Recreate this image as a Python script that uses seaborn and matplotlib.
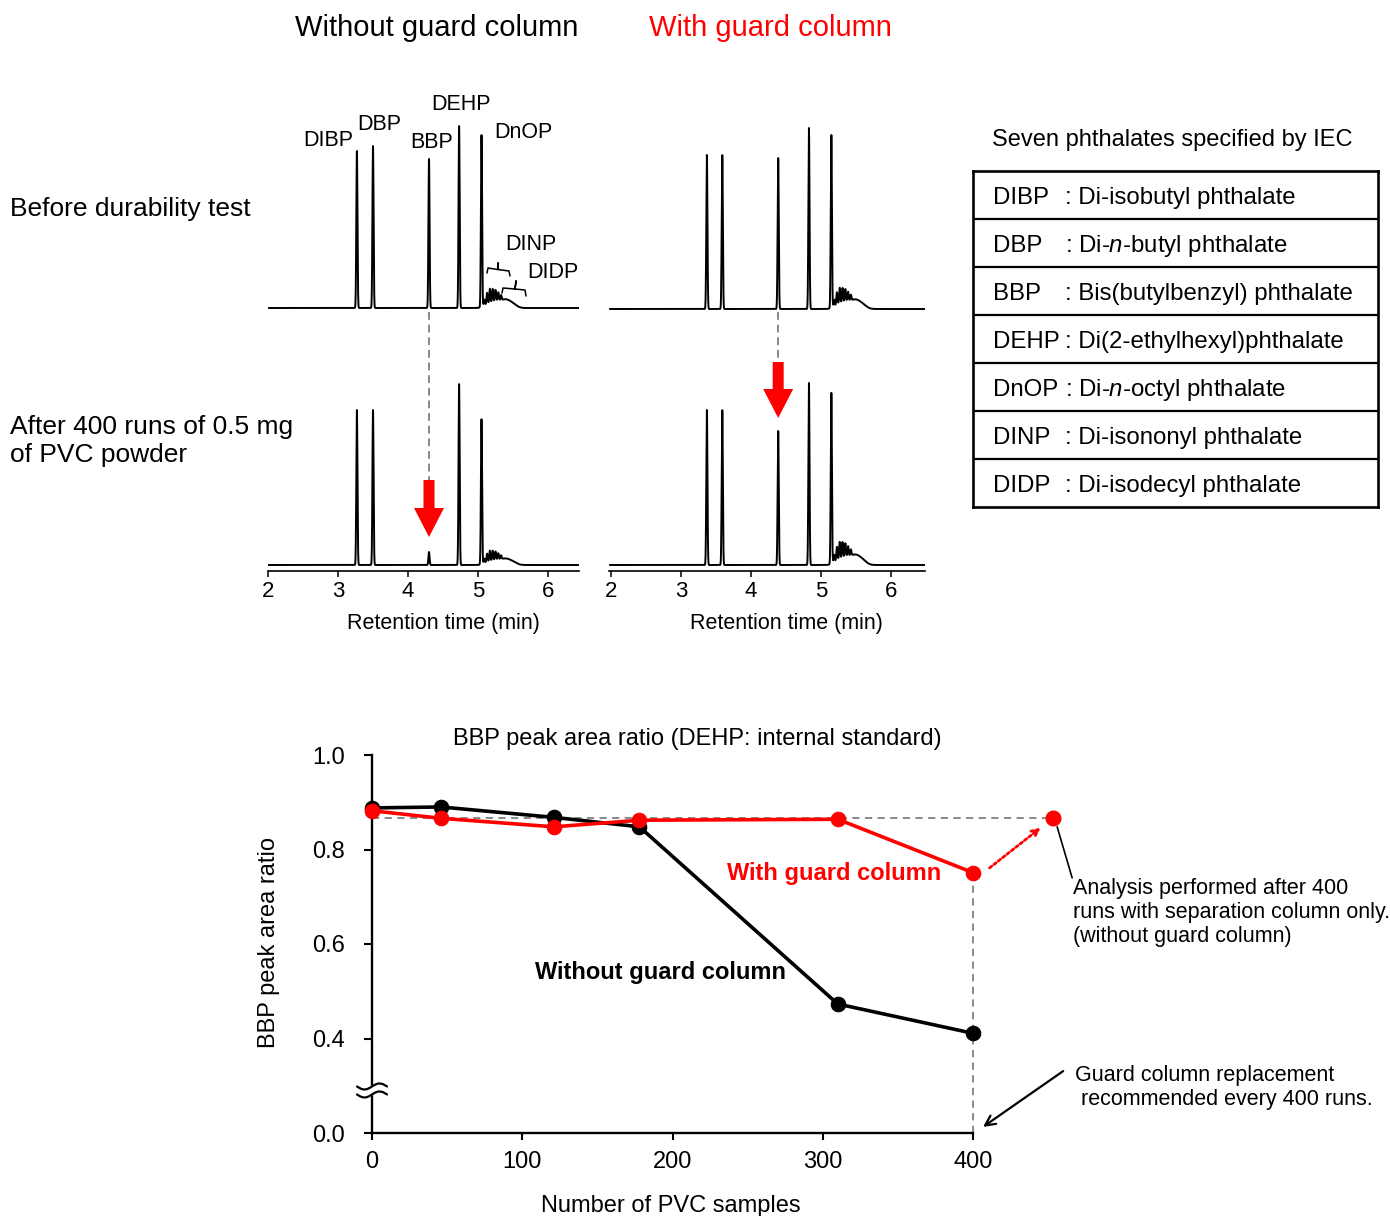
import numpy as np
import matplotlib
matplotlib.use("Agg")
import matplotlib.pyplot as plt
import seaborn as sns
from matplotlib.patches import FancyArrow, Rectangle
from matplotlib.lines import Line2D
from matplotlib.transforms import ScaledTranslation

# chromatogram peaks: retention time (min) and height (detector units)
peak_names = ["DIBP", "DBP", "BBP", "DEHP", "DnOP"]
rt_no_guard = [3.27, 3.50, 4.30, 4.73, 5.05]
rt_guard = [3.37, 3.59, 4.39, 4.83, 5.15]
height_before_no_guard = [157, 162, 149, 182, 172]
height_before_guard = [154, 154, 151, 181, 173]
height_after_no_guard = [155, 155, 13, 181, 145]
height_after_guard = [155, 155, 134, 182, 171]

# DINP / DIDP cluster (offset after DnOP, min)
cluster_offsets = [0.04, 0.08, 0.12, 0.16, 0.20, 0.24, 0.28]
cluster_heights = [6, 11, 14, 13, 11, 8, 5]
envelope_offsets = [0.10, 0.22, 0.34, 0.44]
envelope_heights = [4, 6, 7, 4]
cluster_scale = [1.0, 1.1, 0.75, 1.2]  # before/no guard, before/guard, after/no guard, after/guard

# durability test
samples = [0, 46, 121, 178, 310, 400]
ratio_no_guard = [0.888, 0.890, 0.868, 0.848, 0.473, 0.411]
ratio_guard = [0.882, 0.866, 0.848, 0.862, 0.864, 0.751]
replaced_x = 453
replaced_y = 0.866

# IEC table
abbrevs = ["DIBP", "DBP", "BBP", "DEHP", "DnOP", "DINP", "DIDP"]
full_names = [": Di-isobutyl phthalate",
              r": Di-$\mathit{n}$-butyl phthalate",
              ": Bis(butylbenzyl) phthalate",
              ": Di(2-ethylhexyl)phthalate",
              r": Di-$\mathit{n}$-octyl phthalate",
              ": Di-isononyl phthalate",
              ": Di-isodecyl phthalate"]

sns.set_theme(style="white")
plt.rcParams["font.family"] = ["Liberation Sans", "DejaVu Sans"]
plt.rcParams["mathtext.fontset"] = "custom"
plt.rcParams["mathtext.rm"] = "Liberation Sans"
plt.rcParams["mathtext.it"] = "Liberation Sans:italic"
for k in ["text.color", "axes.labelcolor", "xtick.color", "ytick.color", "axes.edgecolor"]:
    plt.rcParams[k] = "black"

W, H = 1390, 1216
fig = plt.figure(figsize=(W / 100, H / 100), dpi=100)


def rect(x0, y0, x1, y1):
    return [x0 / W, 1 - y1 / H, (x1 - x0) / W, (y1 - y0) / H]


def ftext(px, py, s, **kw):
    fig.text(px / W, 1 - py / H, s, **kw)


def trace(rts, heights, scale, lo, hi):
    t = np.linspace(lo, hi, 6000)
    s = np.zeros_like(t)
    for rt, h in zip(rts, heights):
        s += h * np.exp(-0.5 * ((t - rt) / 0.008) ** 2)
    base = rts[-1]
    for off, h in zip(cluster_offsets, cluster_heights):
        s += scale * h * np.exp(-0.5 * ((t - base - off) / 0.008) ** 2)
    for off, h in zip(envelope_offsets, envelope_heights):
        s += scale * h * np.exp(-0.5 * ((t - base - off) / 0.06) ** 2)
    return t, s


panels = [
    (rect(268, 118, 578.8, 312), (2, 6.44), (-4, 190), rt_no_guard, height_before_no_guard, cluster_scale[0], False),
    (rect(609, 118, 925, 312), (1.97, 6.49), (-3, 191), rt_guard, height_before_guard, cluster_scale[1], False),
    (rect(268, 377, 578.8, 571), (2, 6.44), (-6, 188), rt_no_guard, height_after_no_guard, cluster_scale[2], True),
    (rect(609, 377, 925, 571), (1.97, 6.49), (-6, 188), rt_guard, height_after_guard, cluster_scale[3], True),
]
chrom_axes = []
for box, xl, yl, rts, hts, sc, show_axis in panels:
    ax = fig.add_axes(box)
    ax.set_facecolor("none")
    t, s = trace(rts, hts, sc, xl[0] + 0.01, xl[1])
    sns.lineplot(x=t, y=s, ax=ax, color="black", lw=1.4, estimator=None, sort=False)
    ax.set_xlim(*xl)
    ax.set_ylim(*yl)
    ax.set_xlabel("")
    ax.set_ylabel("")
    for sp in ["top", "right", "left"]:
        ax.spines[sp].set_visible(False)
    ax.set_yticks([])
    if show_axis:
        ax.spines["bottom"].set_linewidth(1.2)
        ax.set_xticks([2, 3, 4, 5, 6])
        ax.tick_params(axis="x", direction="out", length=4, width=1.1, pad=3, labelsize=16, bottom=True)
    else:
        ax.spines["bottom"].set_visible(False)
        ax.set_xticks([])
    chrom_axes.append(ax)

ax_bl, ax_br = chrom_axes[2], chrom_axes[3]
bbp = peak_names.index("BBP")
# dashed guides and red arrows marking the BBP peak
ax_bl.plot([rt_no_guard[bbp]] * 2, [253, 85], color="#888888", lw=1.4, ls=(0, (4, 2.5)), clip_on=False)
ax_br.plot([rt_guard[bbp]] * 2, [253, 203], color="#888888", lw=1.4, ls=(0, (4, 2.5)), clip_on=False)
ax_bl.add_patch(FancyArrow(rt_no_guard[bbp], 85, 0, -57, width=11 / 70, head_width=30 / 70, head_length=29,
                           length_includes_head=True, color="red", lw=0, clip_on=False))
ax_br.add_patch(FancyArrow(rt_guard[bbp], 203, 0, -56, width=11 / 70, head_width=30 / 70, head_length=29,
                           length_includes_head=True, color="red", lw=0, clip_on=False))

# peak labels
for name, px, py in [("DIBP", 328, 140), ("DBP", 379, 124), ("BBP", 432, 142), ("DEHP", 461, 104),
                     ("DnOP", 523, 132), ("DINP", 531, 245), ("DIDP", 553, 272)]:
    ftext(px, py, name, ha="center", va="center", fontsize=15.5)

# brackets for DINP / DIDP
for pts in [[(487, 273), (488, 268), (498, 269.5), (498, 263), (498, 269.5), (509, 271), (510, 276)],
            [(502, 293), (503, 288), (515, 289), (516, 281), (515, 289), (525, 290), (526, 296)]]:
    xs = [p[0] / W for p in pts]
    ys = [1 - p[1] / H for p in pts]
    fig.add_artist(Line2D(xs, ys, transform=fig.transFigure, color="black", lw=1.1))

ftext(437, 28, "Without guard column", ha="center", va="center", fontsize=21)
ftext(770, 28, "With guard column", ha="center", va="center", fontsize=21, color="red")
ftext(10, 209, "Before durability test", ha="left", va="center", fontsize=19)
ftext(10, 441, "After 400 runs of 0.5 mg\nof PVC powder", ha="left", va="center", fontsize=19, linespacing=1.17)
ftext(443, 623, "Retention time (min)", ha="center", va="center", fontsize=15.5)
ftext(786, 623, "Retention time (min)", ha="center", va="center", fontsize=15.5)

# table
ftext(1172, 140, "Seven phthalates specified by IEC", ha="center", va="center", fontsize=17)
axt = fig.add_axes(rect(972.7, 170.7, 1378.3, 507.3))
axt.set_xlim(0, 1)
axt.set_ylim(len(abbrevs), 0)
axt.set_xticks([])
axt.set_yticks([])
for sp in axt.spines.values():
    sp.set_linewidth(1.9)
    sp.set_color("black")
for i in range(1, len(abbrevs)):
    axt.axhline(i, color="black", lw=1.6)
for i, (ab, nm) in enumerate(zip(abbrevs, full_names)):
    axt.text(20 / 405.6, i + 0.56, ab, ha="left", va="center", fontsize=17.3)
    axt.text(92 / 405.6, i + 0.56, nm, ha="left", va="center", fontsize=17.3)

# durability chart
ax = fig.add_axes(rect(372, 755, 973, 1133))
ax.set_facecolor("none")
ax.hlines(replaced_y, 0, replaced_x, color="#808080", lw=1.3, linestyles=(0, (4, 3)), clip_on=False, zorder=1)
ax.vlines(samples[-1], 0.2, ratio_guard[-1], color="#808080", lw=1.3, linestyles=(0, (4, 3)), clip_on=False, zorder=1)
sns.lineplot(x=samples, y=ratio_no_guard, ax=ax, color="black", lw=2.6, marker="o", markersize=10.5,
             markeredgecolor="black", zorder=2, clip_on=False)
sns.lineplot(x=samples, y=ratio_guard, ax=ax, color="red", lw=2.6, marker="o", markersize=10.5,
             markeredgecolor="red", zorder=3, clip_on=False)
ax.plot([replaced_x], [replaced_y], "o", color="red", markersize=10.5, clip_on=False, zorder=3)
ax.annotate("", xy=(445, 0.846), xytext=(411, 0.761), annotation_clip=False,
            arrowprops=dict(arrowstyle="->", color="red", lw=2, linestyle=(0, (1, 1)), shrinkA=0, shrinkB=0))
ax.annotate("", xy=(466, 0.740), xytext=(456, 0.848), annotation_clip=False,
            arrowprops=dict(arrowstyle="-", color="black", lw=1.2, shrinkA=0, shrinkB=0))
ax.annotate("", xy=(406.7, 0.213), xytext=(460, 0.331), annotation_clip=False,
            arrowprops=dict(arrowstyle="->", color="black", lw=1.6, shrinkA=0, shrinkB=0, mutation_scale=18))

ax.text(307.8, 0.750, "With guard column", color="red", fontsize=17, fontweight="bold", ha="center", va="center")
ax.text(191.7, 0.539, "Without guard column", color="black", fontsize=17, fontweight="bold", ha="center", va="center")
ax.text(466.6, 0.739, "Analysis performed after 400\nruns with separation column only.\n(without guard column)",
        fontsize=15.5, ha="left", va="top", linespacing=1.17)
ax.text(468, 0.343, "Guard column replacement\n recommended every 400 runs.",
        fontsize=15.5, ha="left", va="top", linespacing=1.17)

ax.set_xlim(0, 400)
ax.set_ylim(0.2, 1.0)
ax.set_xticks([0, 100, 200, 300, 400])
ax.set_yticks([0.2, 0.4, 0.6, 0.8, 1.0])
ax.set_yticklabels(["0.0", "0.4", "0.6", "0.8", "1.0"])
for sp in ["top", "right"]:
    ax.spines[sp].set_visible(False)
for sp in ["left", "bottom"]:
    ax.spines[sp].set_linewidth(1.7)
ax.tick_params(axis="y", direction="out", length=5.5, width=1.5, pad=14, labelsize=17, left=True)
ax.tick_params(axis="x", direction="out", length=5, width=1.5, pad=8, labelsize=17, bottom=True)
ax.set_xlabel("Number of PVC samples", fontsize=17, va="top")
ax.set_ylabel("BBP peak area ratio", fontsize=17)
ax.xaxis.set_label_coords(0.497, -0.165)
ax.yaxis.set_label_coords(-0.153, 0.505)
ftext(697, 739, "BBP peak area ratio (DEHP: internal standard)", ha="center", va="center", fontsize=17)

# axis break mark
brk = fig.dpi_scale_trans + ScaledTranslation(0, 0.29, ax.transData)
ax.add_patch(Rectangle((-0.03, -0.04), 0.06, 0.08, transform=brk, color="white", clip_on=False, zorder=4))
wx = np.linspace(-0.15, 0.15, 40)
for off in (0.04, -0.04):
    ax.add_line(Line2D(wx, off + 0.03 * np.sin(2 * np.pi * wx / 0.3), transform=brk, color="black",
                       lw=1.6, clip_on=False, zorder=5))

fig.savefig("out.png", dpi=100)
